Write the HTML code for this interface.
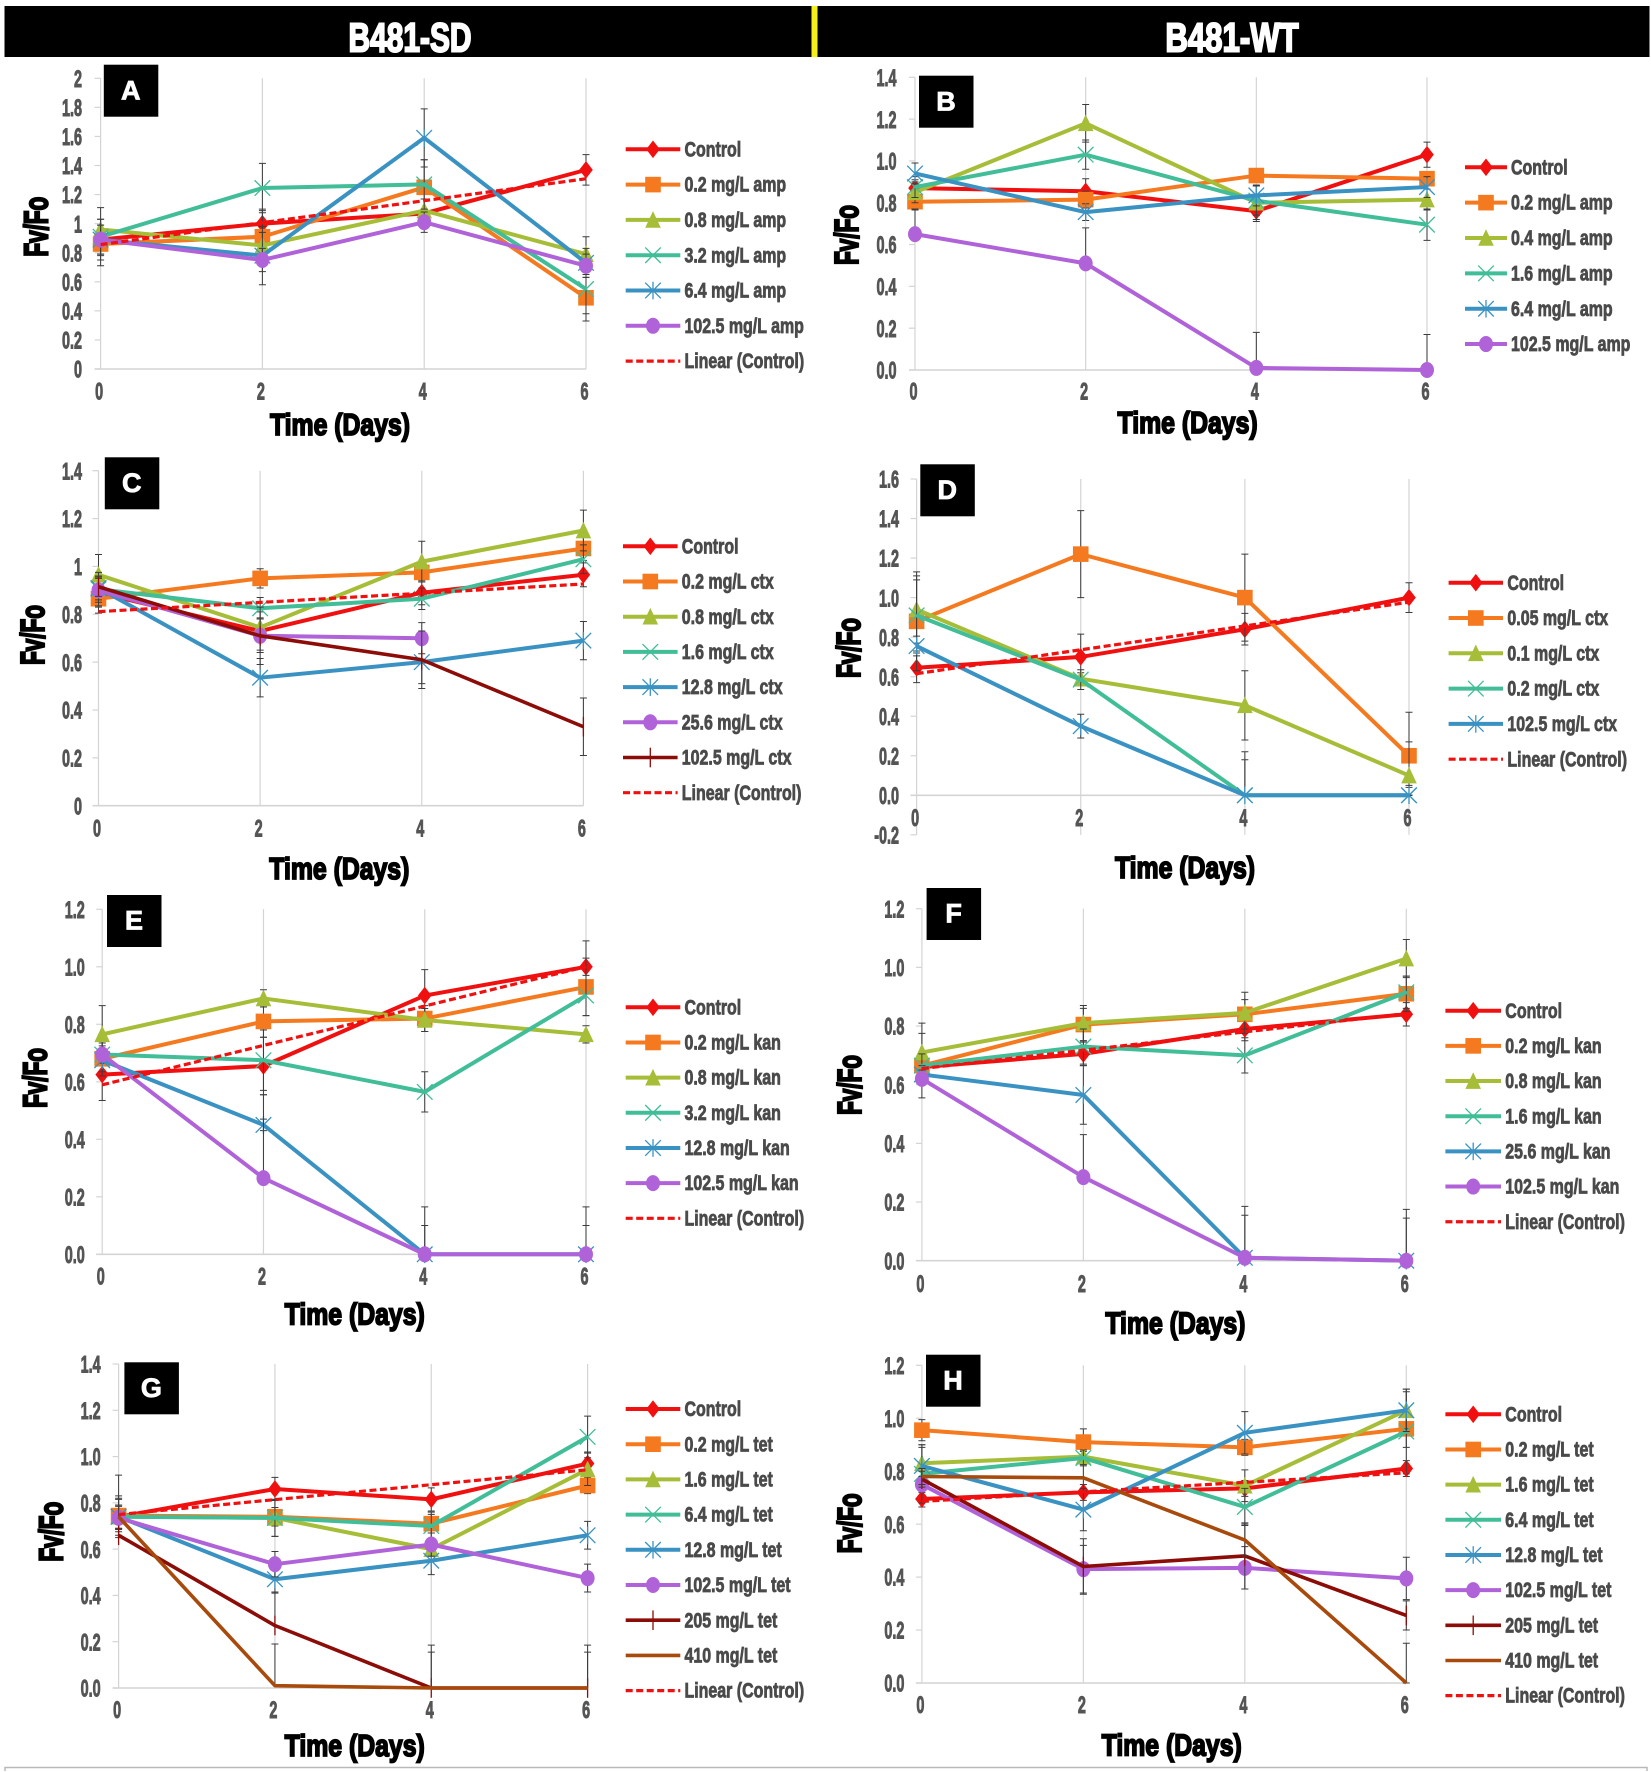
<!DOCTYPE html>
<html lang="en">
<head>
<meta charset="utf-8">
<title>Fv/Fo over time, B481-SD and B481-WT</title>
<style>
html,body{margin:0;padding:0;background:#fff;}
svg{display:block;font-family:"Liberation Sans",sans-serif;font-weight:bold;}
</style>
</head>
<body>
<svg id="figure" xmlns="http://www.w3.org/2000/svg" width="1651" height="1772" viewBox="0 0 1651 1772">
  <rect x="0" y="0" width="1651" height="1772" fill="#ffffff"/>
  <rect x="4.5" y="6" width="1645" height="51" fill="#000000"/>
  <rect x="811.5" y="6" width="6" height="51" fill="#f6f01a"/>
  <text transform="translate(410,51.5) scale(.73,1)" text-anchor="middle" font-size="41" fill="#fff" stroke="#fff" stroke-width="2">B481-SD</text>
  <text transform="translate(1232,51.5) scale(.76,1)" text-anchor="middle" font-size="41" fill="#fff" stroke="#fff" stroke-width="2">B481-WT</text>
  <path d="M5 1771V1767.5H1647V1771" fill="none" stroke="#b9b9b9" stroke-width="1.5"/>
</svg>
<script>
const days=[0,2,4,6];

// Panel A
const aLabels=['Control','0.2 mg/L amp','0.8 mg/L amp','3.2 mg/L amp','6.4 mg/L amp','102.5 mg/L amp'];
const aTicks=['0','0.2','0.4','0.6','0.8','1','1.2','1.4','1.6','1.8','2'];
const aControl=[0.89,1.0,1.07,1.37];
const aControlErr=[0.14,0.10,0.10,0.105];
const aDose1=[0.86,0.91,1.25,0.49];
const aDose1Err=[0.08,0.18,0.19,0.16];
const aDose2=[0.96,0.85,1.09,0.79];
const aDose2Err=[0.07,0.09,0.08,0.12];
const aDose3=[0.91,1.245,1.27,0.55];
const aDose3Err=[0.2,0.17,0.17,0.17];
const aDose4=[0.89,0.78,1.59,0.73];
const aDose4Err=[0.1,0.2,0.2,0.1];
const aDose5=[0.89,0.75,1.01,0.71];
const aDose5Err=[0.1,0.08,0.07,0.08];

// Panel B
const bLabels=['Control','0.2 mg/L amp','0.4 mg/L amp','1.6 mg/L amp','6.4 mg/L amp','102.5 mg/L amp'];
const bTicks=['0.0','0.2','0.4','0.6','0.8','1.0','1.2','1.4'];
const bControl=[0.87,0.855,0.76,1.03];
const bControlErr=[0.04,0.06,0.05,0.06];
const bDose1=[0.805,0.815,0.93,0.915];
const bDose1Err=[0.04,0.04,0.03,0.03];
const bDose2=[0.85,1.18,0.80,0.815];
const bDose2Err=[0.05,0.09,0.08,0.05];
const bDose3=[0.875,1.03,0.81,0.695];
const bDose3Err=[0.05,0.07,0.07,0.075];
const bDose4=[0.94,0.755,0.835,0.875];
const bDose4Err=[0.05,0.04,0.05,0.05];
const bDose5=[0.65,0.51,0.01,0];
const bDose5Err=[0.12,0.17,0.17,0.17];

// Panel C
const cLabels=['Control','0.2 mg/L ctx','0.8 mg/L ctx','1.6 mg/L ctx','12.8 mg/L ctx','25.6 mg/L ctx','102.5 mg/L ctx'];
const cTicks=['0','0.2','0.4','0.6','0.8','1','1.2','1.4'];
const cControl=[0.89,0.73,0.89,0.965];
const cControlErr=[0.06,0.08,0.05,0.05];
const cDose1=[0.865,0.95,0.975,1.075];
const cDose1Err=[0.06,0.04,0.04,0.05];
const cDose2=[0.965,0.745,1.02,1.15];
const cDose2Err=[0.085,0.04,0.085,0.085];
const cDose3=[0.905,0.825,0.865,1.03];
const cDose3Err=[0.07,0.045,0.045,0.06];
const cDose4=[0.91,0.535,0.60,0.69];
const cDose4Err=[0.05,0.08,0.09,0.08];
const cDose5=[0.90,0.71,0.70,null];
const cDose5Err=[0.05,0.07,0.065,null];
const cDose6=[0.915,0.71,0.61,0.33];
const cDose6Err=[0.04,0.12,0.12,0.12];

// Panel D
const dLabels=['Control','0.05 mg/L ctx','0.1 mg/L ctx','0.2 mg/L ctx','102.5 mg/L ctx'];
const dTicks=['-0.2','0.0','0.2','0.4','0.6','0.8','1.0','1.2','1.4','1.6'];
const dControl=[0.645,0.70,0.84,1.0];
const dControlErr=[0.075,0.115,0.08,0.075];
const dDose1=[0.88,1.22,1.0,0.20];
const dDose1Err=[0.25,0.22,0.22,0.22];
const dDose2=[0.94,0.59,0.455,0.10];
const dDose2Err=[0.17,0.03,0.175,0.17];
const dDose3=[0.91,0.585,0,0];
const dDose3Err=[0.18,0.05,0.18,0.05];
const dDose4=[0.755,0.35,0,0];
const dDose4Err=[0.05,0.06,0.22,0.04];

// Panel E
const eLabels=['Control','0.2 mg/L kan','0.8 mg/L kan','3.2 mg/L kan','12.8 mg/L kan','102.5 mg/L kan'];
const eTicks=['0.0','0.2','0.4','0.6','0.8','1.0','1.2'];
const eControl=[0.625,0.655,0.90,1.0];
const eControlErr=[0.09,0.1,0.09,0.09];
const eDose1=[0.68,0.81,0.82,0.93];
const eDose1Err=[0.06,0.055,0.045,0.1];
const eDose2=[0.765,0.89,0.815,0.765];
const eDose2Err=[0.1,0.03,0.04,0.03];
const eDose3=[0.695,0.675,0.565,0.90];
const eDose3Err=[0.03,0.105,0.07,0.07];
const eDose4=[0.675,0.45,0,0];
const eDose4Err=[0.04,0.02,0.165,0.165];
const eDose5=[0.695,0.265,0,0];
const eDose5Err=[0.04,0.29,0.1,0.1];

// Panel F
const fLabels=['Control','0.2 mg/L kan','0.8 mg/L kan','1.6 mg/L kan','25.6 mg/L kan','102.5 mg/L kan'];
const fTicks=['0.0','0.2','0.4','0.6','0.8','1.0','1.2'];
const fControl=[0.66,0.705,0.79,0.84];
const fControlErr=[0.04,0.04,0.04,0.04];
const fDose1=[0.665,0.805,0.84,0.91];
const fDose1Err=[0.11,0.055,0.05,0.06];
const fDose2=[0.71,0.81,0.845,1.03];
const fDose2Err=[0.1,0.06,0.07,0.065];
const fDose3=[0.665,0.73,0.70,0.915];
const fDose3Err=[0.04,0.06,0.06,0.055];
const fDose4=[0.635,0.565,0.01,0];
const fDose4Err=[0.03,0.1,0.175,0.175];
const fDose5=[0.62,0.285,0.01,0];
const fDose5Err=[0.03,0.145,0.145,0.145];

// Panel G
const gLabels=['Control','0.2 mg/L tet','1.6 mg/L tet','6.4 mg/L tet','12.8 mg/L tet','102.5 mg/L tet','205 mg/L tet','410 mg/L tet'];
const gTicks=['0.0','0.2','0.4','0.6','0.8','1.0','1.2','1.4'];
const gControl=[0.74,0.86,0.815,0.97];
const gControlErr=[0.08,0.05,0.05,0.05];
const gDose1=[0.745,0.74,0.71,0.875];
const gDose1Err=[0.07,0.04,0.04,0.035];
const gDose2=[0.74,0.735,0.60,0.945];
const gDose2Err=[0.05,0.08,0.03,0.07];
const gDose3=[0.74,0.735,0.70,1.085];
const gDose3Err=[0.09,0.08,0.06,0.09];
const gDose4=[0.74,0.47,0.55,0.66];
const gDose4Err=[0.05,0.06,0.06,0.06];
const gDose5=[0.735,0.535,0.62,0.475];
const gDose5Err=[0.05,0.055,0.05,0.06];
const gDose6=[0.66,0.27,0,0];
const gDose6Err=[0.03,0.145,0.185,0.185];
const gDose7=[0.74,0.01,0,0];
const gDose7Err=[0.18,0.18,0.155,0.155];

// Panel H
const hLabels=['Control','0.2 mg/L tet','1.6 mg/L tet','6.4 mg/L tet','12.8 mg/L tet','102.5 mg/L tet','205 mg/L tet','410 mg/L tet'];
const hTicks=['0.0','0.2','0.4','0.6','0.8','1.0','1.2'];
const hControl=[0.695,0.72,0.735,0.81];
const hControlErr=[0.03,0.03,0.03,0.03];
const hDose1=[0.955,0.91,0.89,0.96];
const hDose1Err=[0.04,0.05,0.03,0.07];
const hDose2=[0.83,0.855,0.745,1.03];
const hDose2Err=[0.07,0.02,0.06,0.07];
const hDose3=[0.79,0.85,0.665,0.95];
const hDose3Err=[0.11,0.03,0.07,0.16];
const hDose4=[0.82,0.655,0.945,1.03];
const hDose4Err=[0.07,0.08,0.08,0.08];
const hDose5=[0.75,0.43,0.435,0.395];
const hDose5Err=[0.03,0.09,0.08,0.08];
const hDose6=[0.77,0.44,0.48,0.255];
const hDose6Err=[0.03,0.105,0.125,0.055];
const hDose7=[0.78,0.775,0.54,0];
const hDose7Err=[0.03,0.05,0.06,0.15];

const seriesStyles=[
  {color:'#f01010',marker:'diamond',width:4},
  {color:'#f5791f',marker:'square',width:4},
  {color:'#a6bd38',marker:'triangle',width:4},
  {color:'#41bd98',marker:'cross',width:4},
  {color:'#3a92c3',marker:'star',width:4},
  {color:'#b063d8',marker:'circle',width:4},
  {color:'#8c0c08',marker:'plus',width:3.6},
  {color:'#a84a0c',marker:'none',width:3.6}
];

const panels=[
 {id:'a',letter:'A',labels:aLabels,ticks:aTicks,trend:true,upOnly:[],
  values:[aControl,aDose1,aDose2,aDose3,aDose4,aDose5],
  errors:[aControlErr,aDose1Err,aDose2Err,aDose3Err,aDose4Err,aDose5Err],
  x0:100.6,x6:586,y0:369,yTop:78.3,tickRight:82,xTickY:390.7,titleX:340,titleY:424,yTitleX:35.5,yTitleY:226.7,
  box:[103.8,64.7],legendX:[625.7,680.3],legendTextX:684.5,legendTop:149.3,legendStep:35.3},
 {id:'b',letter:'B',labels:bLabels,ticks:bTicks,trend:false,upOnly:[5],
  values:[bControl,bDose1,bDose2,bDose3,bDose4,bDose5],
  errors:[bControlErr,bDose1Err,bDose2Err,bDose3Err,bDose4Err,bDose5Err],
  x0:915,x6:1427,y0:370,yTop:77.3,tickRight:896.5,xTickY:390.7,titleX:1187.6,titleY:421.7,yTitleX:846,yTitleY:235,
  box:[919,75.7],legendX:[1465,1507],legendTextX:1511,legendTop:167.3,legendStep:35.35},
 {id:'c',letter:'C',labels:cLabels,ticks:cTicks,trend:true,upOnly:[],
  values:[cControl,cDose1,cDose2,cDose3,cDose4,cDose5,cDose6],
  errors:[cControlErr,cDose1Err,cDose2Err,cDose3Err,cDose4Err,cDose5Err,cDose6Err],
  x0:98.5,x6:583.4,y0:805.7,yTop:470.7,tickRight:82,xTickY:827.7,titleX:339.3,titleY:867.7,yTitleX:31.8,yTitleY:635,
  box:[104.8,457.3],legendX:[623,677.6],legendTextX:681.8,legendTop:546.3,legendStep:35.2},
 {id:'d',letter:'D',labels:dLabels,ticks:dTicks,trend:true,upOnly:[],
  values:[dControl,dDose1,dDose2,dDose3,dDose4],
  errors:[dControlErr,dDose1Err,dDose2Err,dDose3Err,dDose4Err],
  x0:916.6,x6:1409,y0:795.3,yTop:479,tickRight:899,xTickY:817.3,titleX:1185,titleY:866.7,yTitleX:847.8,yTitleY:648,
  box:[920.3,464.3],legendX:[1448.6,1503],legendTextX:1507.4,legendTop:582.7,legendStep:35.3},
 {id:'e',letter:'E',labels:eLabels,ticks:eTicks,trend:true,upOnly:[5],
  values:[eControl,eDose1,eDose2,eDose3,eDose4,eDose5],
  errors:[eControlErr,eDose1Err,eDose2Err,eDose3Err,eDose4Err,eDose5Err],
  x0:102.2,x6:586,y0:1254.3,yTop:909.3,tickRight:84.7,xTickY:1276,titleX:354.7,titleY:1313.3,yTitleX:34.4,yTitleY:1078,
  box:[107,895],legendX:[625.7,680.3],legendTextX:684.5,legendTop:1007.3,legendStep:35.17},
 {id:'f',letter:'F',labels:fLabels,ticks:fTicks,trend:true,upOnly:[5],
  values:[fControl,fDose1,fDose2,fDose3,fDose4,fDose5],
  errors:[fControlErr,fDose1Err,fDose2Err,fDose3Err,fDose4Err,fDose5Err],
  x0:921.9,x6:1406.3,y0:1260.7,yTop:908.7,tickRight:904.4,xTickY:1283.3,titleX:1175.4,titleY:1322.3,yTitleX:848.8,yTitleY:1085,
  box:[926.6,888],legendX:[1445.4,1501],legendTextX:1505.3,legendTop:1010.7,legendStep:35.17},
 {id:'g',letter:'G',labels:gLabels,ticks:gTicks,trend:true,upOnly:[6,7],
  values:[gControl,gDose1,gDose2,gDose3,gDose4,gDose5,gDose6,gDose7],
  errors:[gControlErr,gDose1Err,gDose2Err,gDose3Err,gDose4Err,gDose5Err,gDose6Err,gDose7Err],
  x0:118.6,x6:587.6,y0:1688,yTop:1364,tickRight:100.6,xTickY:1709.3,titleX:354.7,titleY:1745,yTitleX:50.3,yTitleY:1531.7,
  box:[124.4,1362.3],legendX:[625.7,680.3],legendTextX:684.5,legendTop:1409,legendStep:35.2},
 {id:'h',letter:'H',labels:hLabels,ticks:hTicks,trend:true,upOnly:[],
  values:[hControl,hDose1,hDose2,hDose3,hDose4,hDose5,hDose6,hDose7],
  errors:[hControlErr,hDose1Err,hDose2Err,hDose3Err,hDose4Err,hDose5Err,hDose6Err,hDose7Err],
  x0:921.9,x6:1406.3,y0:1683,yTop:1365.3,tickRight:904.4,xTickY:1704.3,titleX:1171.7,titleY:1744.3,yTitleX:848.8,yTitleY:1523.3,
  box:[926,1354.7],legendX:[1445.4,1501],legendTextX:1505.3,legendTop:1414.3,legendStep:35.17}
];

const NS='http://www.w3.org/2000/svg';
const root=document.getElementById('figure');

function make(parent,tag,attrs){
  const node=document.createElementNS(NS,tag);
  for(const key in attrs){node.setAttribute(key,attrs[key]);}
  parent.appendChild(node);
  return node;
}
function addText(parent,str,x,y,size,sx,anchor,fill,stroke){
  const t=make(parent,'text',{
    transform:'translate('+x+','+(y+size*0.36)+') scale('+sx+',1)',
    'text-anchor':anchor,'font-size':size,fill:fill,stroke:fill,'stroke-width':stroke
  });
  t.textContent=str;
  return t;
}
function drawMarker(parent,kind,x,y,color){
  const s=7.8;
  if(kind==='none'){return;}
  const g=make(parent,'g',{});
  
  
  if(kind==='diamond'){make(g,'path',{d:'M'+x+' '+(y-s-1)+'L'+(x+s-1)+' '+y+'L'+x+' '+(y+s+1)+'L'+(x-s+1)+' '+y+'Z',fill:color});}
  if(kind==='square'){make(g,'rect',{x:x-s,y:y-s,width:2*s,height:2*s,fill:color});}
  if(kind==='triangle'){make(g,'path',{d:'M'+x+' '+(y-s-1)+'L'+(x+s)+' '+(y+s)+'L'+(x-s)+' '+(y+s)+'Z',fill:color});}
  if(kind==='circle'){make(g,'ellipse',{cx:x,cy:y,rx:7,ry:8,fill:color});}
  if(kind==='cross'||kind==='star'){
    make(g,'path',{d:'M'+(x-s)+' '+(y-s)+'L'+(x+s)+' '+(y+s)+'M'+(x-s)+' '+(y+s)+'L'+(x+s)+' '+(y-s),stroke:color,'stroke-width':1.3,fill:'none'});
  }
  if(kind==='star'){make(g,'path',{d:'M'+x+' '+(y-s-1)+'V'+(y+s+1),stroke:color,'stroke-width':1.3,fill:'none'});}
  if(kind==='plus'){make(g,'path',{d:'M'+x+' '+(y-s-2)+'V'+(y+s+2),stroke:color,'stroke-width':1.3,fill:'none'});}
}
function regression(values){
  const n=days.length;
  let sx=0,sy=0,sxx=0,sxy=0;
  for(let i=0;i<n;i++){sx+=days[i];sy+=values[i];sxx+=days[i]*days[i];sxy+=days[i]*values[i];}
  const slope=(n*sxy-sx*sy)/(n*sxx-sx*sx);
  const intercept=(sy-slope*sx)/n;
  return function(d){return intercept+slope*d;};
}

panels.forEach(function(p){
  const tickValues=p.ticks.map(parseFloat);
  const maxTick=Math.max.apply(null,tickValues);
  const minTick=Math.min.apply(null,tickValues);
  const xScale=function(d){return p.x0+(d-days[0])*(p.x6-p.x0)/(days[days.length-1]-days[0]);};
  const yScale=function(v){return p.y0-v*(p.y0-p.yTop)/maxTick;};

  const panel=make(root,'g',{});
  
  

  days.forEach(function(d){
    const grid=make(panel,'line',{x1:xScale(d),x2:xScale(d),y1:yScale(maxTick),y2:yScale(minTick),stroke:'#d4d4d4','stroke-width':1.2});
    
    
    const label=addText(panel,String(d),xScale(d)-1.5,p.xTickY,24,0.6,'middle','#555555',1);
    
    
  });

  const axis=make(panel,'line',{x1:p.x0-6,x2:p.x6,y1:yScale(0),y2:yScale(0),stroke:'#d4d4d4','stroke-width':1.6});
  
  

  p.ticks.forEach(function(lab,i){
    const tv=tickValues[i];
    const stub=make(panel,'line',{x1:p.x0-6,x2:p.x0,y1:yScale(tv),y2:yScale(tv),stroke:'#d4d4d4','stroke-width':1.2});
    
    
    const label=addText(panel,lab,p.tickRight,yScale(tv),24,0.6,'end','#555555',1);
    
    
  });

  const xTitle=addText(panel,'Time (Days)',p.titleX,p.titleY,31,0.8,'middle','#000000',1.8);
  
  

  const yTitle=make(panel,'text',{
    transform:'translate('+(p.yTitleX+12)+','+p.yTitleY+') rotate(-90) scale(.68,1)',
    'text-anchor':'middle','font-size':33,fill:'#000000',stroke:'#000000','stroke-width':2.2
  });
  yTitle.textContent='Fv/Fo';
  
  

  p.values.forEach(function(vals,si){
    const st=seriesStyles[si];
    const g=make(panel,'g',{});
    
    
    vals.forEach(function(v,i){
      if(v===null){return;}
      const e=p.errors[si][i];
      const x=xScale(days[i]);
      const hi=yScale(v+e);
      const onlyUp=p.upOnly.indexOf(si)>=0;
      const lo=onlyUp?yScale(v):yScale(Math.max(0,v-e));
      let d='M'+x+' '+hi+'V'+lo+'M'+(x-3.5)+' '+hi+'H'+(x+3.5);
      if(!onlyUp){d+='M'+(x-3.5)+' '+lo+'H'+(x+3.5);}
      const bar=make(g,'path',{d:d,stroke:'#3c3c3c','stroke-width':1,fill:'none'});
      
      
    });
    const pts=[];
    vals.forEach(function(v,i){if(v!==null){pts.push(xScale(days[i])+','+yScale(v));}});
    const line=make(g,'polyline',{points:pts.join(' '),fill:'none',stroke:st.color,'stroke-width':st.width,'stroke-linejoin':'round'});
    
    
    vals.forEach(function(v,i){
      if(v!==null){drawMarker(g,st.marker,xScale(days[i]),yScale(v),st.color);}
    });
  });

  if(p.trend){
    const fit=regression(p.values[0]);
    const first=days[0], last=days[days.length-1];
    const trend=make(panel,'line',{x1:xScale(first),y1:yScale(fit(first)),x2:xScale(last),y2:yScale(fit(last)),stroke:'#f01010','stroke-width':3.2,'stroke-dasharray':'7 3.5'});
    
    
  }

  const box=make(panel,'rect',{x:p.box[0],y:p.box[1],width:54.5,height:52,fill:'#000000'});
  
  
  const letter=addText(panel,p.letter,p.box[0]+27,p.box[1]+25,27,1,'middle','#ffffff',0.8);
  
  

  const legend=make(panel,'g',{});
  
  
  const lx1=p.legendX[0], lx2=p.legendX[1], lmid=(lx1+lx2)/2;
  p.labels.forEach(function(lab,i){
    const y=p.legendTop+i*p.legendStep;
    const st=seriesStyles[i];
    const entry=make(legend,'g',{});
    
    
    make(entry,'line',{x1:lx1,x2:lx2,y1:y,y2:y,stroke:st.color,'stroke-width':st.width});
    drawMarker(entry,st.marker,lmid,y,st.color);
    addText(entry,lab,p.legendTextX,y-0.5,21,0.76,'start','#4a4a4a',0.8);
  });
  if(p.trend){
    const y=p.legendTop+p.labels.length*p.legendStep;
    const entry=make(legend,'g',{});
    
    
    make(entry,'line',{x1:lx1,x2:lx2,y1:y,y2:y,stroke:'#f01010','stroke-width':3.2,'stroke-dasharray':'7 3.5'});
    addText(entry,'Linear (Control)',p.legendTextX,y-0.5,21,0.76,'start','#4a4a4a',0.8);
  }
});
</script>
</body>
</html>
